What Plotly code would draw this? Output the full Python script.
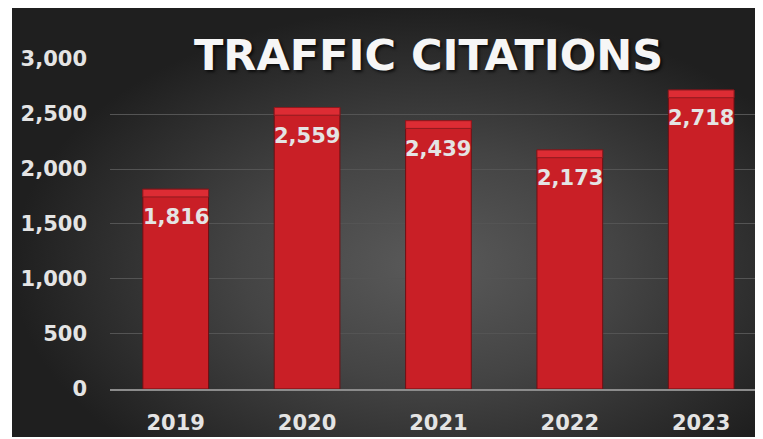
import plotly.graph_objects as go

# chart data
years = ["2019", "2020", "2021", "2022", "2023"]
citations = [1816, 2559, 2439, 2173, 2718]
y_ticks = [0, 500, 1000, 1500, 2000, 2500, 3000]
y_tick_text = ["0", "500", "1,000", "1,500", "2,000", "2,500", "3,000"]
title_text = "TRAFFIC CITATIONS"

label_font = dict(family="DejaVu Sans", size=21, color="#e4e4e4", weight="bold")
bevel = 70  # height of the light band on top of each bar (data units)

fig = go.Figure()

# dark background with a radial glow, on the first (full-size) axes so it sits underneath
fig.add_trace(go.Scatter(
    x=[0, 1.12, 1.12, 0, 0], y=[-0.2, -0.2, 1, 1, -0.2],
    mode="lines", line=dict(width=0), fill="toself",
    fillgradient=dict(type="radial",
                      colorscale=[[0, "#5a5a5a"], [0.45, "#444444"], [1, "#1f1f1f"]]),
    xaxis="x", yaxis="y", hoverinfo="skip", showlegend=False,
))

# main bars
fig.add_trace(go.Bar(
    x=years, y=citations, width=0.5,
    marker=dict(color="#c91f26", line=dict(color="#6e1014", width=1)),
    xaxis="x2", yaxis="y2", hoverinfo="skip", showlegend=False,
))
# light bevel band on top of the bars
fig.add_trace(go.Bar(
    x=years, y=[bevel] * len(citations), base=[v - bevel for v in citations], width=0.5,
    marker=dict(color="#dd2c34", line=dict(color="#8e1a1f", width=1)),
    xaxis="x2", yaxis="y2", hoverinfo="skip", showlegend=False,
))

# value labels inside the bars (x given as category index)
for i, v in enumerate(citations):
    fig.add_annotation(x=i, y=v, xref="x2", yref="y2", text=f"{v:,}", showarrow=False,
                       yanchor="top", yshift=-14, font=label_font)

fig.add_annotation(xref="paper", yref="paper", x=0.558, y=0.8904, text=title_text,
                   showarrow=False, xanchor="center", yanchor="middle",
                   font=dict(family="DejaVu Sans", size=43, color="#f6f6f6", weight="bold",
                             shadow="2px 2px 3px rgba(0,0,0,0.7)"))

# the page adds an 8px body margin, so the figure is 8px smaller than the window
fig.update_layout(
    width=755, height=431,
    margin=dict(l=4, r=4, t=0, b=2, autoexpand=False),
    paper_bgcolor="white", plot_bgcolor="rgba(0,0,0,0)",
    barmode="overlay",
    xaxis=dict(domain=[0, 1], range=[0, 1], visible=False, fixedrange=True),
    yaxis=dict(domain=[0, 1], range=[0, 1], visible=False, fixedrange=True),
    xaxis2=dict(domain=[0.1312, 1], anchor="y2", type="category", range=[-0.5, 4.44],
                showgrid=False, showline=True, linecolor="#8c8c8c", linewidth=2,
                tickfont=label_font, ticklabelstandoff=14, zeroline=False, automargin=False),
    yaxis2=dict(domain=[0.1119, 0.8811], anchor="x2", range=[0, 3000], tickvals=y_ticks,
                ticktext=y_tick_text, showgrid=True, gridcolor="#545454", gridwidth=1,
                zeroline=False, showline=False, tickfont=label_font, ticklabelstandoff=22,
                automargin=False),
)

fig.write_html("out.html")
